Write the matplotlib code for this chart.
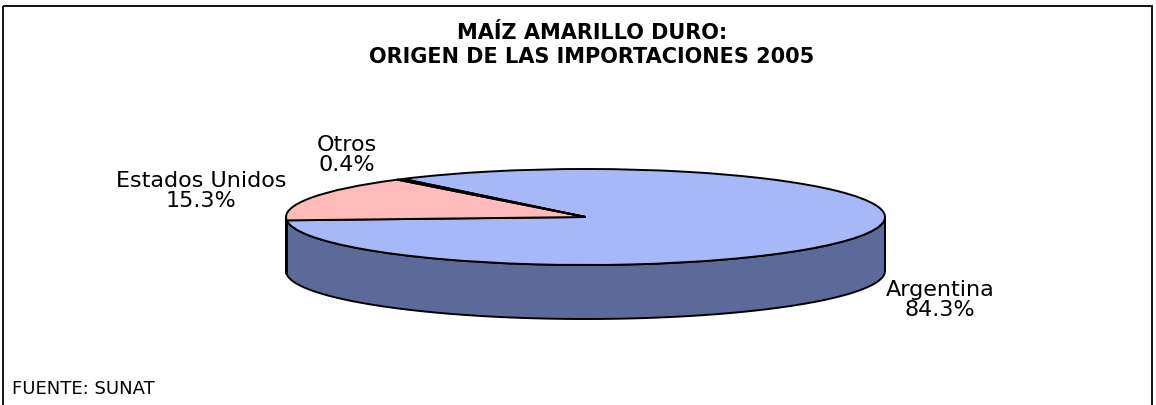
import numpy as np
import matplotlib
matplotlib.use('Agg')
import matplotlib.pyplot as plt
from matplotlib.patches import Wedge, Polygon, Rectangle
from matplotlib.transforms import Affine2D

# datos del grafico
paises = ['Argentina', 'Estados Unidos', 'Otros']
porcentajes = [84.3, 15.3, 0.4]
titulo = ['MAÍZ AMARILLO DURO:', 'ORIGEN DE LAS IMPORTACIONES 2005']
fuente = 'FUENTE: SUNAT'

colores_top = ['#a6b8f8', '#ffbaba', '#d6d6ee']
colores_lado = ['#5b6a98', '#a87474', '#8a8aa4']

W, H = 1156, 406
fig = plt.figure(figsize=(W / 100, H / 100), dpi=100)
ax = fig.add_axes([0, 0, 1, 1])
ax.set_xlim(0, W)
ax.set_ylim(H, 0)
ax.axis('off')

# marco del grafico
ax.add_patch(Rectangle((3, 7), 1149, 420, fill=False, edgecolor='black', lw=1.3))

# geometria del pastel 3d (pixeles)
cx, cy = 585.5, 218
rx, ry = 299.5, 48
depth = 54
start = 127.5

elip = Affine2D().scale(rx, -ry).translate(cx, cy) + ax.transData

total = sum(porcentajes)
angulos = []
acum = 0
for p in porcentajes:
    t2 = start - acum / total * 360
    acum += p
    t1 = start - acum / total * 360
    angulos.append((t1, t2))

# caras laterales (mitad frontal)
for (t1, t2), col in zip(angulos, colores_lado):
    for k in (-360, 0, 360):
        a = max(t1 + k, -180)
        b = min(t2 + k, 0)
        if b <= a:
            continue
        t = np.radians(np.linspace(a, b, 80))
        xs = cx + rx * np.cos(t)
        ys = cy - ry * np.sin(t)
        pts = np.column_stack([np.r_[xs, xs[::-1]], np.r_[ys, ys[::-1] + depth]])
        ax.add_patch(Polygon(pts, closed=True, facecolor=col, edgecolor='black', lw=1.4))

# cara superior
for (t1, t2), col in zip(angulos, colores_top):
    ax.add_patch(Wedge((0, 0), 1, t1, t2, facecolor=col, edgecolor='black',
                       lw=1.4, transform=elip))

# etiquetas
pos_etiquetas = [(940, 300), (201, 191), (347, 155)]
for nombre, p, (x, y) in zip(paises, porcentajes, pos_etiquetas):
    ax.text(x, y, f'{nombre}\n{p:.1f}%', ha='center', va='center',
            fontsize=16, family='DejaVu Sans', linespacing=1.05)

ax.text(592, 33, titulo[0], ha='center', va='center', fontsize=15,
        fontweight='bold', family='DejaVu Sans')
ax.text(592, 57, titulo[1], ha='center', va='center', fontsize=15,
        fontweight='bold', family='DejaVu Sans')

ax.text(12, 389, fuente, ha='left', va='center', fontsize=13, family='DejaVu Sans')

plt.savefig('out.png', dpi=100)
